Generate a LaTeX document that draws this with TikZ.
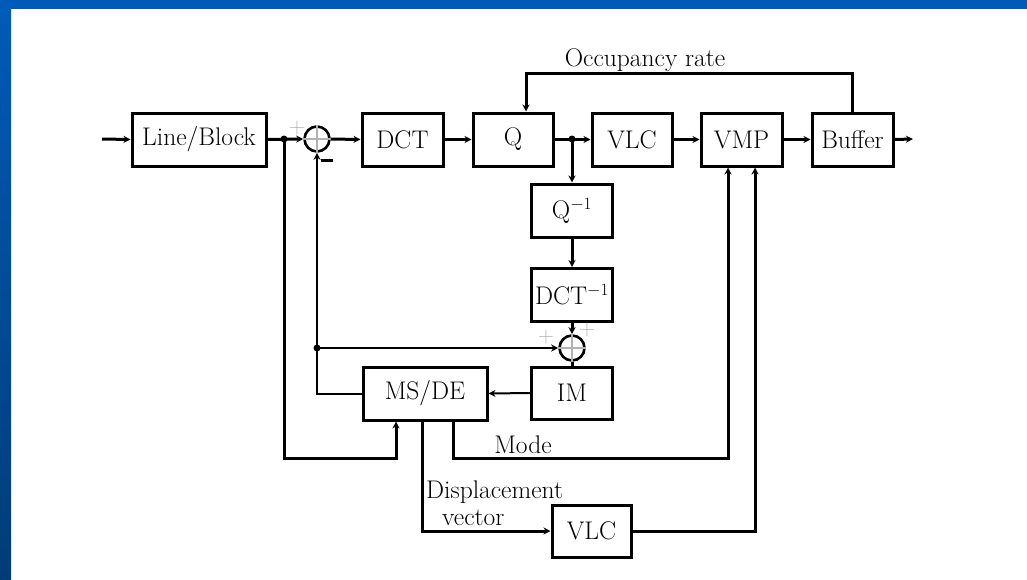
\documentclass[tikz,border=0pt]{standalone}
\usetikzlibrary{arrows.meta}
\definecolor{slideblue}{HTML}{005BB8}
\definecolor{slidebluedark}{HTML}{003C78}
\tikzset{
  blk/.style={draw, line width=3pt, minimum height=53pt, inner sep=0pt, font=\fontsize{25.5}{28}\selectfont},
  sumc/.style={draw, circle, line width=2.6pt, minimum size=25pt, inner sep=0pt},
  thk/.style={line width=3pt},
  thn/.style={line width=2pt},
  arr/.style={-{Stealth[length=7pt,width=7pt]}},
  lbl/.style={font=\fontsize{25.5}{28}\selectfont, inner sep=0pt},
  sgn/.style={font=\fontsize{22}{24}\selectfont, inner sep=0pt, text=gray!60},
  dotj/.style={circle, fill, inner sep=0pt, minimum size=7pt}
}
\begin{document}
\begin{tikzpicture}[x=1pt,y=-1pt]
\useasboundingbox (0,0) rectangle (1027,579);
% slide frame
\fill[white] (0,0) rectangle (1027,579);
\shade[top color=slideblue, bottom color=slidebluedark] (0,0) rectangle (11,579);
\fill[slideblue] (0,0) rectangle (1027,9);

% blocks
\node[blk, minimum width=134pt] (lb) at (199,139.5) {Line/Block};
\node[sumc] (s1) at (317,139) {};
\node[blk, minimum width=81pt] (dct) at (402.5,139.5) {DCT};
\node[blk, minimum width=80pt] (q) at (513,139.5) {Q};
\node[blk, minimum width=80pt] (vlc) at (632,139.5) {VLC};
\node[blk, minimum width=81pt] (vmp) at (741.5,139.5) {VMP};
\node[blk, minimum width=81pt] (buf) at (852.5,139.5) {Buffer};
\node[blk, minimum width=81pt] (qi) at (572,210.5) {Q$^{-1}$};
\node[blk, minimum width=81pt] (dcti) at (572,295) {DCT$^{-1}$};
\node[sumc] (s2) at (572,348) {};
\node[blk, minimum width=81pt, minimum height=52pt] (im) at (572,393) {IM};
\node[blk, minimum width=124pt] (msde) at (425,393.5) {MS/DE};
\node[blk, minimum width=79pt, minimum height=52pt] (vlc2) at (591.5,531) {VLC};

% crosses in summing circles
\draw[gray!60, line width=1.6pt] (s1.north) -- (s1.south) (s1.west) -- (s1.east);
\draw[gray!60, line width=1.6pt] (s2.north) -- (s2.south) (s2.west) -- (s2.east);

% coordinates
\coordinate (in) at (102,139);
\coordinate (out) at (913,139);
\coordinate (j1) at (284,139);
\coordinate (j2) at (572,139);
\coordinate (j3) at (317,348);
\coordinate (occ) at (526,73);
\coordinate (c1) at (396,458);
\coordinate (m1) at (453,458);
\coordinate (m2) at (728,458);
\coordinate (d1) at (422,531);
\coordinate (d2) at (755,531);

% main path
\draw[thk, arr] (in) -- (lb.west);
\draw[thk, arr] (lb.east) -- (s1.west);
\draw[thk, arr] (s1.east) -- (dct.west);
\draw[thk, arr] (dct.east) -- (q.west);
\draw[thk, arr] (q.east) -- (vlc.west);
\draw[thk, arr] (vlc.east) -- (vmp.west);
\draw[thk, arr] (vmp.east) -- (buf.west);
\draw[thk, arr] (buf.east) -- (out);
\node[dotj] (dj1) at (j1) {};
\node[dotj] (dj2) at (j2) {};

% occupancy feedback
\draw[thk, arr] (buf.north) |- (occ) -- (occ |- q.north);
\node[lbl] (occl) at (645,60) {Occupancy rate};

% local decoder
\draw[thk, arr] (j2) -- (qi.north);
\draw[thk, arr] (qi.south) -- (dcti.north);
\draw[thk, arr] (dcti.south) -- (s2.north);
\draw[thk] (s2.south) -- (im.north);
\draw[thn, arr] (im.west) -- (msde.east);

% prediction feedback
\draw[thn, arr] (msde.west) -| (s1.south);
\node[dotj] (dj3) at (j3) {};
\draw[thn, arr] (j3) -- (s2.west);

% input to motion estimation
\draw[thk, arr] (j1) |- (c1) -- (c1 |- msde.south);

% mode
\draw[thk, arr] (m1 |- msde.south) -- (m1) -- (m2) -- (m2 |- vmp.south);
\node[lbl] (model) at (523,445) {Mode};

% displacement vector
\draw[thk, arr] (d1 |- msde.south) |- (vlc2.west);
\draw[thk, arr] (vlc2.east) -- (d2) -- (d2 |- vmp.south);
\node[lbl, anchor=west] (dvl1) at (426,492) {Displacement};
\node[lbl, anchor=west] (dvl2) at (442,518) {vector};

% signs
\node[sgn] (p1) at (297,128) {+};
\node[fill=black, inner sep=0pt, minimum width=12pt, minimum height=3pt] (m1s) at (327,160) {};
\node[sgn] (p2) at (546,337) {+};
\node[sgn] (p3) at (587,330) {+};
\end{tikzpicture}
\end{document}
